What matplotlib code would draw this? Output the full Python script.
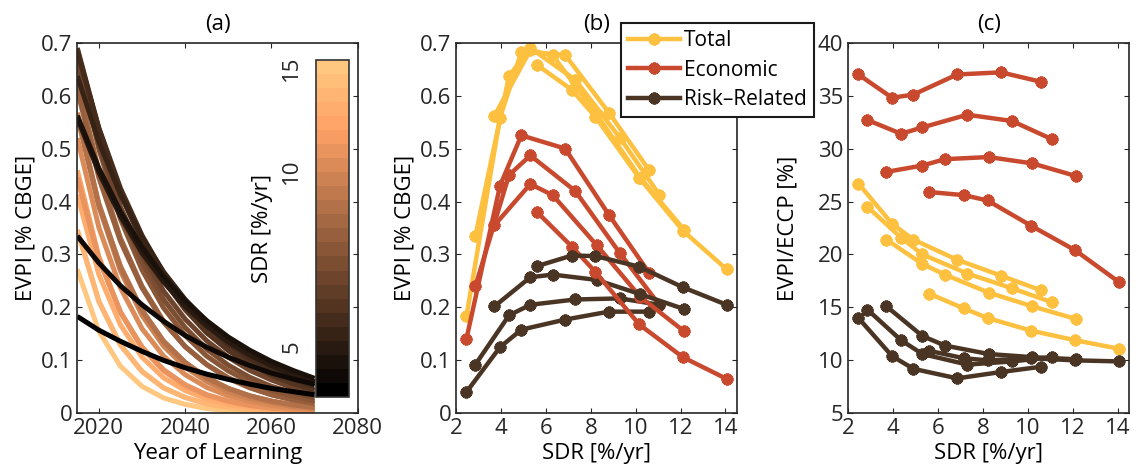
import matplotlib
matplotlib.use('Agg')
import matplotlib.pyplot as plt
import matplotlib.ticker as ticker
from matplotlib.colors import LogNorm
from matplotlib.cm import ScalarMappable

plt.rcParams['font.family'] = ['Open Sans', 'DejaVu Sans']
plt.rcParams['font.size'] = 16
plt.rcParams['axes.linewidth'] = 1.2
plt.rcParams['axes.edgecolor'] = '#262626'
plt.rcParams['xtick.direction'] = 'in'
plt.rcParams['ytick.direction'] = 'in'
plt.rcParams['xtick.top'] = True
plt.rcParams['ytick.right'] = True
plt.rcParams['xtick.major.size'] = 3.5
plt.rcParams['ytick.major.size'] = 3.5
plt.rcParams['xtick.color'] = '#262626'
plt.rcParams['ytick.color'] = '#262626'

# SDR of each run, four groups of six
sdr_s1 = [2.45, 3.95, 4.9, 6.85, 8.8, 10.6]
sdr_s2 = [2.85, 4.35, 5.3, 7.3, 9.3, 11.05]
sdr_s3 = [3.7, 5.3, 6.3, 8.25, 10.2, 12.15]
sdr_s4 = [5.6, 7.15, 8.2, 10.15, 12.1, 14.05]
sdr = [sdr_s1, sdr_s2, sdr_s3, sdr_s4]

# panel (b): EVPI [% CBGE]
total = [[0.183, 0.558, 0.683, 0.677, 0.568, 0.459],
         [0.335, 0.637, 0.690, 0.630, 0.520, 0.413],
         [0.562, 0.686, 0.676, 0.565, 0.445, 0.347],
         [0.658, 0.611, 0.560, 0.445, 0.345, 0.272]]
econ = [[0.140, 0.430, 0.525, 0.500, 0.375, 0.265],
        [0.240, 0.450, 0.487, 0.420, 0.302, 0.205],
        [0.355, 0.433, 0.412, 0.318, 0.220, 0.155],
        [0.380, 0.315, 0.267, 0.168, 0.106, 0.065]]
risk = [[0.040, 0.125, 0.158, 0.177, 0.192, 0.192],
        [0.092, 0.185, 0.205, 0.215, 0.217, 0.205],
        [0.202, 0.257, 0.262, 0.252, 0.225, 0.197],
        [0.278, 0.298, 0.297, 0.277, 0.238, 0.205]]

# panel (c): EVPI/ECCP [%]
ratio_total = [[26.7, 22.9, 21.4, 19.5, 18.0, 16.6],
               [24.5, 21.6, 20.0, 18.2, 16.8, 15.5],
               [21.4, 19.1, 18.1, 16.4, 15.1, 13.9],
               [16.3, 14.9, 14.0, 12.8, 11.9, 11.1]]
ratio_econ = [[37.0, 34.8, 35.1, 37.0, 37.2, 36.3],
              [32.7, 31.4, 32.0, 33.2, 32.6, 30.9],
              [27.8, 28.4, 29.0, 29.2, 28.6, 27.4],
              [25.9, 25.6, 25.1, 22.7, 20.4, 17.4]]
ratio_risk = [[14.0, 10.4, 9.2, 8.3, 8.9, 9.4],
              [14.8, 11.9, 10.6, 9.6, 9.9, 10.3],
              [15.1, 12.3, 11.4, 10.6, 10.3, 10.1],
              [10.9, 10.2, 10.0, 10.2, 10.0, 9.9]]

# panel (a): EVPI by year of learning, one path per run (same order as sdr)
years = [2015, 2020, 2025, 2030, 2035, 2040, 2045, 2050, 2055, 2060, 2065, 2070]
evpi_paths = [
    [0.183, 0.157, 0.136, 0.117, 0.100, 0.086, 0.074, 0.064, 0.055, 0.047, 0.041, 0.035],
    [0.558, 0.455, 0.372, 0.303, 0.248, 0.202, 0.165, 0.135, 0.110, 0.090, 0.073, 0.060],
    [0.683, 0.539, 0.425, 0.336, 0.265, 0.209, 0.165, 0.130, 0.103, 0.081, 0.064, 0.051],
    [0.677, 0.499, 0.367, 0.271, 0.199, 0.147, 0.108, 0.080, 0.059, 0.043, 0.032, 0.023],
    [0.568, 0.391, 0.269, 0.185, 0.127, 0.087, 0.060, 0.041, 0.028, 0.020, 0.013, 0.009],
    [0.459, 0.296, 0.191, 0.123, 0.080, 0.051, 0.033, 0.021, 0.014, 0.009, 0.006, 0.004],
    [0.335, 0.284, 0.241, 0.205, 0.174, 0.147, 0.125, 0.106, 0.090, 0.076, 0.065, 0.055],
    [0.637, 0.513, 0.413, 0.332, 0.267, 0.215, 0.173, 0.139, 0.112, 0.090, 0.073, 0.058],
    [0.690, 0.537, 0.418, 0.325, 0.253, 0.197, 0.153, 0.119, 0.093, 0.072, 0.056, 0.044],
    [0.630, 0.457, 0.331, 0.240, 0.174, 0.126, 0.092, 0.066, 0.048, 0.035, 0.025, 0.018],
    [0.520, 0.351, 0.237, 0.160, 0.108, 0.073, 0.049, 0.033, 0.023, 0.015, 0.010, 0.007],
    [0.413, 0.262, 0.167, 0.106, 0.067, 0.043, 0.027, 0.017, 0.011, 0.007, 0.004, 0.003],
    [0.562, 0.463, 0.381, 0.314, 0.258, 0.213, 0.175, 0.144, 0.119, 0.098, 0.081, 0.066],
    [0.686, 0.534, 0.415, 0.323, 0.252, 0.196, 0.152, 0.119, 0.092, 0.072, 0.056, 0.043],
    [0.676, 0.508, 0.381, 0.286, 0.215, 0.162, 0.121, 0.091, 0.068, 0.051, 0.039, 0.029],
    [0.565, 0.396, 0.278, 0.195, 0.136, 0.096, 0.067, 0.047, 0.033, 0.023, 0.016, 0.011],
    [0.445, 0.291, 0.191, 0.125, 0.082, 0.053, 0.035, 0.023, 0.015, 0.010, 0.006, 0.004],
    [0.347, 0.212, 0.129, 0.079, 0.048, 0.030, 0.018, 0.011, 0.007, 0.004, 0.003, 0.002],
    [0.658, 0.507, 0.390, 0.300, 0.231, 0.178, 0.137, 0.106, 0.081, 0.063, 0.048, 0.037],
    [0.611, 0.445, 0.325, 0.237, 0.172, 0.126, 0.092, 0.067, 0.049, 0.035, 0.026, 0.019],
    [0.560, 0.393, 0.276, 0.194, 0.136, 0.096, 0.067, 0.047, 0.033, 0.023, 0.016, 0.011],
    [0.445, 0.292, 0.191, 0.125, 0.082, 0.054, 0.035, 0.023, 0.015, 0.010, 0.007, 0.004],
    [0.345, 0.211, 0.129, 0.079, 0.048, 0.030, 0.018, 0.011, 0.007, 0.004, 0.003, 0.002],
    [0.272, 0.155, 0.089, 0.051, 0.029, 0.017, 0.009, 0.005, 0.003, 0.002, 0.001, 0.001],
]

c_total = '#FDC03F'
c_econ = '#C8492D'
c_risk = '#4A3524'
star = (8, 2, 0)
mk = dict(lw=3.2, marker=star, ms=8.5, mew=2.6)
fmt = ticker.FuncFormatter(lambda v, p: f'{v:g}')

W, H = 1138, 467
fig = plt.figure(figsize=(W / 100, H / 100), dpi=100)
ax_a = fig.add_axes([77.3 / W, 1 - 413.3 / H, 280.4 / W, 370.6 / H])
ax_b = fig.add_axes([456.3 / W, 1 - 413.3 / H, 280.4 / W, 370.6 / H])
ax_c = fig.add_axes([848.3 / W, 1 - 413.3 / H, 280.7 / W, 370.6 / H])

# ---- (a): one colour band per run, ranked by SDR
all_sdr = sdr_s1 + sdr_s2 + sdr_s3 + sdr_s4
n = len(all_sdr)
cmap = plt.get_cmap('copper', n)
ranked = sorted(range(n), key=lambda i: all_sdr[i])
for r, i in reversed(list(enumerate(ranked))):
    ax_a.plot(years, evpi_paths[i], color=cmap(r), lw=3.6,
              solid_joinstyle='round', solid_capstyle='butt')
ax_a.set_xlim(2015, 2080)
ax_a.set_ylim(0, 0.7)
ax_a.set_xticks([2020, 2040, 2060, 2080])
ax_a.set_yticks([0, 0.1, 0.2, 0.3, 0.4, 0.5, 0.6, 0.7])
ax_a.yaxis.set_major_formatter(fmt)
ax_a.set_xlabel('Year of Learning', labelpad=3)
ax_a.set_ylabel('EVPI [% CBGE]', labelpad=3)
ax_a.set_title('(a)', fontsize=16, pad=9)

cax = fig.add_axes([316.3 / W, 1 - 396.8 / H, 33 / W, 336.8 / H])
norm = LogNorm(vmin=4.1, vmax=15.5)
cb = fig.colorbar(ScalarMappable(norm=norm, cmap=cmap), cax=cax)
cb.outline.set_linewidth(1.2)
cb.outline.set_edgecolor('#333333')
cax.minorticks_off()
cax.yaxis.set_ticks_position('left')
cax.yaxis.set_label_position('left')
cb.set_ticks([5, 10, 15])
cax.set_yticklabels(['5', '10', '15'], rotation=90, va='center')
cax.tick_params(axis='y', length=0, pad=10, right=False)
cb.set_label('SDR [%/yr]', labelpad=6)

# ---- (b) and (c)
for k in range(4):
    ax_b.plot(sdr[k], total[k], color=c_total, label='Total', **mk)
    ax_b.plot(sdr[k], econ[k], color=c_econ, label='Economic', **mk)
    ax_b.plot(sdr[k], risk[k], color=c_risk, label='Risk\u2013Related', **mk)
    ax_c.plot(sdr[k], ratio_total[k], color=c_total, **mk)
    ax_c.plot(sdr[k], ratio_econ[k], color=c_econ, **mk)
    ax_c.plot(sdr[k], ratio_risk[k], color=c_risk, **mk)

ax_b.set_xlim(2, 14.5)
ax_b.set_ylim(0, 0.7)
ax_b.set_xticks([2, 4, 6, 8, 10, 12, 14])
ax_b.set_yticks([0, 0.1, 0.2, 0.3, 0.4, 0.5, 0.6, 0.7])
ax_b.yaxis.set_major_formatter(fmt)
ax_b.set_xlabel('SDR [%/yr]', labelpad=3)
ax_b.set_ylabel('EVPI [% CBGE]', labelpad=3)
ax_b.set_title('(b)', fontsize=16, pad=9)

ax_c.set_xlim(2, 14.5)
ax_c.set_ylim(5, 40)
ax_c.set_xticks([2, 4, 6, 8, 10, 12, 14])
ax_c.set_yticks([5, 10, 15, 20, 25, 30, 35, 40])
ax_c.set_xlabel('SDR [%/yr]', labelpad=3)
ax_c.set_ylabel('EVPI/ECCP [%]', labelpad=14)
ax_c.set_title('(c)', fontsize=16, pad=9)

handles, labels = ax_b.get_legend_handles_labels()
leg = fig.legend(handles[:3], labels[:3], loc='upper left',
                 bbox_to_anchor=(621 / W, 1 - 23 / H), bbox_transform=fig.transFigure,
                 fancybox=False, framealpha=1, edgecolor='#1a1a1a', borderaxespad=0,
                 handlelength=2.5, handletextpad=0.15, labelspacing=0.4, borderpad=0.35,
                 numpoints=1, fontsize=15)
leg.get_frame().set_linewidth(1.5)

fig.savefig('out.png', dpi=100)
